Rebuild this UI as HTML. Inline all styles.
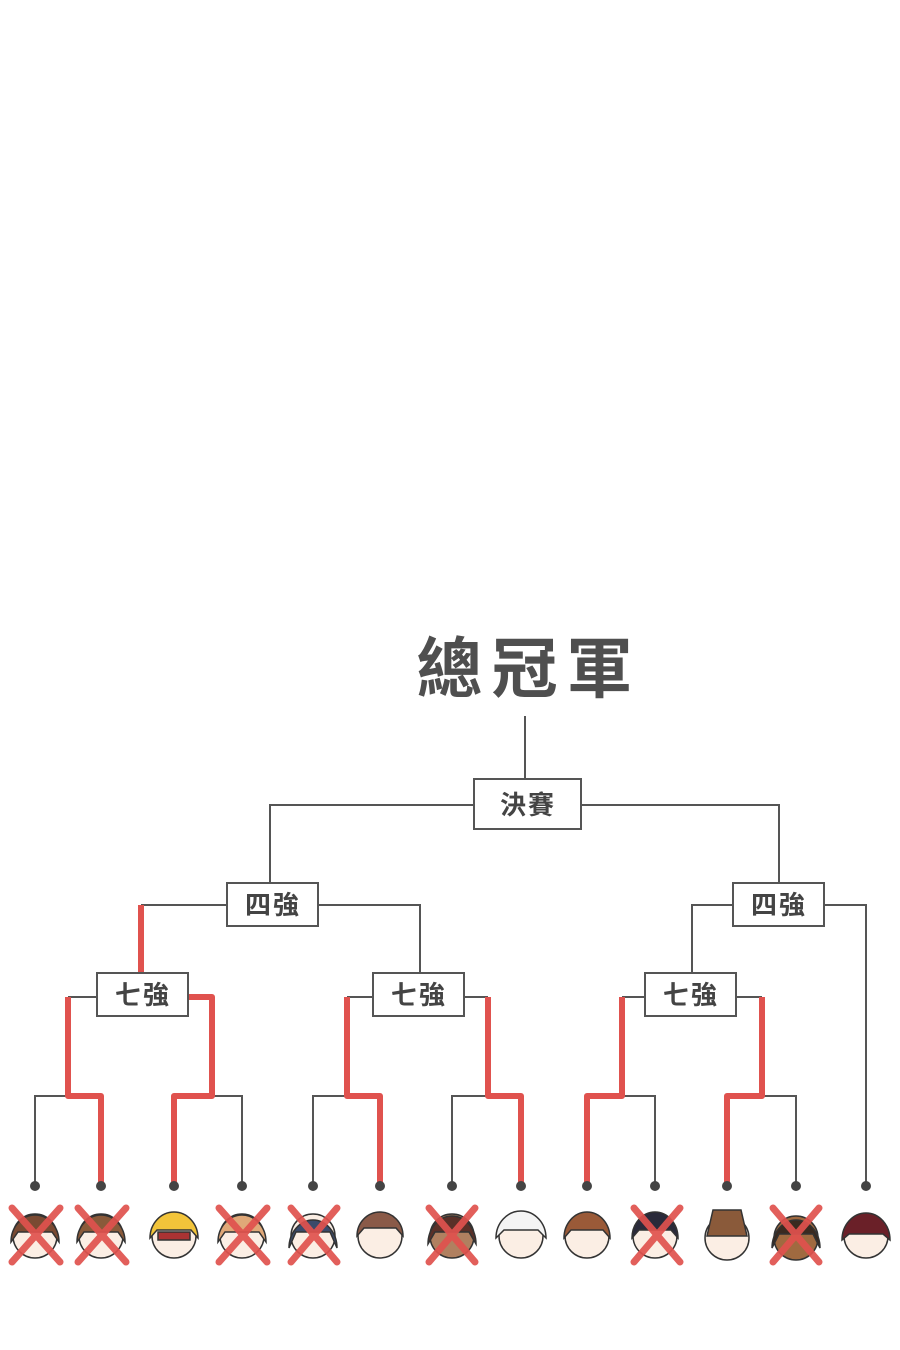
<!DOCTYPE html>
<html><head><meta charset="utf-8"><style>
html,body{margin:0;padding:0;background:#fff;}
svg{display:block;}
</style></head><body>
<svg width="900" height="1350" viewBox="0 0 900 1350" xmlns="http://www.w3.org/2000/svg">
<rect width="900" height="1350" fill="#fff"/>
<text x="529" y="692" text-anchor="middle" font-family="'Liberation Sans','Noto Sans CJK TC',sans-serif" font-size="66" font-weight="bold" fill="#4f4f4f" letter-spacing="9">總冠軍</text>
<g stroke="#555" stroke-width="2" fill="none">
<line x1="525" y1="716" x2="525" y2="779"/>
<polyline points="474,805 270,805 270,883"/>
<polyline points="581,805 779,805 779,883"/>
<polyline points="227,905 141,905"/>
<polyline points="318,905 420,905 420,973"/>
<polyline points="733,905 692,905 692,973"/>
<polyline points="824,905 866,905 866,1186"/>
<line x1="97" y1="997" x2="68" y2="997"/>
<line x1="373" y1="997" x2="347" y2="997"/>
<line x1="464" y1="997" x2="488" y2="997"/>
<line x1="645" y1="997" x2="622" y2="997"/>
<line x1="736" y1="997" x2="762" y2="997"/>
<polyline points="68,1096 35,1096 35,1186"/>
<polyline points="212,1096 242,1096 242,1186"/>
<polyline points="347,1096 313,1096 313,1186"/>
<polyline points="488,1096 452,1096 452,1186"/>
<polyline points="622,1096 655,1096 655,1186"/>
<polyline points="762,1096 796,1096 796,1186"/>
</g>
<g stroke="#e0524e" stroke-width="6" fill="none" stroke-linejoin="round">
<line x1="141" y1="905" x2="141" y2="973"/>
<polyline points="68,997 68,1096 101,1096 101,1186"/>
<polyline points="188,997 212,997 212,1096 174,1096 174,1186"/>
<polyline points="347,997 347,1096 380,1096 380,1186"/>
<polyline points="488,997 488,1096 521,1096 521,1186"/>
<polyline points="622,997 622,1096 587,1096 587,1186"/>
<polyline points="762,997 762,1096 727,1096 727,1186"/>
</g>
<g fill="#444">
<circle cx="35" cy="1186" r="5"/><circle cx="101" cy="1186" r="5"/><circle cx="174" cy="1186" r="5"/><circle cx="242" cy="1186" r="5"/><circle cx="313" cy="1186" r="5"/><circle cx="380" cy="1186" r="5"/><circle cx="452" cy="1186" r="5"/><circle cx="521" cy="1186" r="5"/><circle cx="587" cy="1186" r="5"/><circle cx="655" cy="1186" r="5"/><circle cx="727" cy="1186" r="5"/><circle cx="796" cy="1186" r="5"/><circle cx="866" cy="1186" r="5"/>
</g>
<g stroke="#555" stroke-width="2" fill="#fff">
<rect x="474" y="779" width="107" height="50"/>
<rect x="227" y="883" width="91" height="43"/>
<rect x="733" y="883" width="91" height="43"/>
<rect x="97" y="973" width="91" height="43"/>
<rect x="373" y="973" width="91" height="43"/>
<rect x="645" y="973" width="91" height="43"/>
</g>
<g font-family="'Liberation Sans','Noto Sans CJK TC',sans-serif" font-size="26" font-weight="bold" fill="#444" text-anchor="middle" letter-spacing="2">
<text x="528" y="814">決賽</text>
<text x="273" y="914">四強</text>
<text x="779" y="914">四強</text>
<text x="143" y="1004">七強</text>
<text x="419" y="1004">七強</text>
<text x="691" y="1004">七強</text>
</g>
<g stroke="#333" stroke-width="1.5">
<g transform="translate(35,1236)"><circle r="22" fill="#fbeee4"/><path d="M-24,6 A24,27 0 0 1 24,6 L17,-4 L-17,-4 Z" fill="#7a4a32"/></g>
<g transform="translate(101,1236)"><circle r="22" fill="#fbeee4"/><path d="M-24,6 A24,27 0 0 1 24,6 L17,-4 L-17,-4 Z" fill="#8a5a3a"/></g>
<g transform="translate(174,1236)"><circle r="22" fill="#fbeee4"/><path d="M-24,2 A24,26 0 0 1 24,2 L17,-6 L-17,-6 Z" fill="#f2c43a"/><rect x="-16" y="-4" width="32" height="8" fill="#a33" /></g>
<g transform="translate(242,1236)"><circle r="22" fill="#fbeee4"/><path d="M-24,6 A24,27 0 0 1 24,6 L17,-4 L-17,-4 Z" fill="#e0a878"/></g>
<g transform="translate(313,1236)"><circle r="22" fill="#fbeee4"/><path d="M-24,12 A24,28 0 0 1 24,12 L17,-4 L-17,-4 Z" fill="#3a4a6a"/></g>
<g transform="translate(380,1236)"><circle r="22" fill="#fbeee4"/><path d="M-23,0 A23,24 0 0 1 23,0 L16,-8 L-16,-8 Z" fill="#8a5a48"/></g>
<g transform="translate(452,1236)"><circle r="22" fill="#b08060"/><path d="M-24,8 A24,28 0 0 1 24,8 L17,-4 L-17,-4 Z" fill="#5a3028"/></g>
<g transform="translate(521,1236)"><circle r="22" fill="#fbeee4"/><path d="M-25,2 A25,27 0 0 1 25,2 L17,-6 L-17,-6 Z" fill="#f4f4f4"/></g>
<g transform="translate(587,1236)"><circle r="22" fill="#fbeee4"/><path d="M-23,2 A23,26 0 0 1 23,2 L16,-6 L-16,-6 Z" fill="#9a5a38"/></g>
<g transform="translate(655,1236)"><circle r="22" fill="#fbeee4"/><path d="M-23,2 A23,26 0 0 1 23,2 L16,-6 L-16,-6 Z" fill="#2a2a3a"/></g>
<g transform="translate(727,1238)"><circle r="22" fill="#fbeee4"/><path d="M-20,-2 L-14,-28 L14,-28 L20,-2 Z" fill="#8a5a3a"/></g>
<g transform="translate(796,1238)"><circle r="22" fill="#a06a40"/><path d="M-24,10 A24,28 0 0 1 24,10 L17,-4 L-17,-4 Z" fill="#3a2a20"/></g>
<g transform="translate(866,1236)"><circle r="22" fill="#fbeee4"/><path d="M-24,4 A24,27 0 0 1 24,4 L17,-2 L-17,-2 Z" fill="#6a2028"/></g>
</g>
<g stroke="#e0524e" stroke-width="7" stroke-linecap="round" opacity="0.92">
<path d="M12,1208 L60,1262 M60,1208 L12,1262"/>
<path d="M78,1208 L126,1262 M126,1208 L78,1262"/>
<path d="M219,1208 L267,1262 M267,1208 L219,1262"/>
<path d="M291,1208 L337,1262 M337,1208 L291,1262"/>
<path d="M429,1208 L475,1262 M475,1208 L429,1262"/>
<path d="M634,1208 L680,1262 M680,1208 L634,1262"/>
<path d="M773,1208 L819,1262 M819,1208 L773,1262"/>
</g>
</svg>
</body></html>
